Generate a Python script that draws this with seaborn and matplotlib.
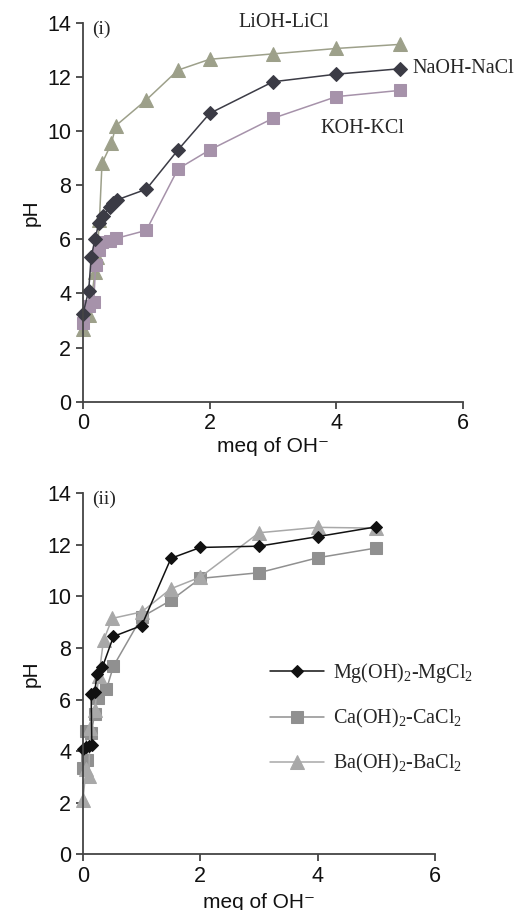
import numpy as np
import pandas as pd
import matplotlib
matplotlib.use("Agg")
import matplotlib.pyplot as plt
import seaborn as sns

# ---- data: panel (i) ----
li_x = [0.0, 0.1, 0.19, 0.22, 0.26, 0.3, 0.45, 0.52, 1.0, 1.5, 2.0, 3.0, 4.0, 5.0]
li_y = [2.7, 3.2, 4.8, 5.35, 6.7, 8.8, 9.55, 10.2, 11.15, 12.25, 12.65, 12.85, 13.05, 13.2]
na_x = [0.0, 0.09, 0.13, 0.19, 0.25, 0.32, 0.42, 0.47, 0.53, 1.0, 1.5, 2.0, 3.0, 4.0, 5.0]
na_y = [3.25, 4.1, 5.35, 6.0, 6.6, 6.85, 7.2, 7.35, 7.45, 7.85, 9.3, 10.65, 11.82, 12.1, 12.3]
k_x = [0.0, 0.1, 0.17, 0.2, 0.25, 0.3, 0.42, 0.52, 1.0, 1.5, 2.0, 3.0, 4.0, 5.0]
k_y = [2.9, 3.55, 3.7, 5.05, 5.6, 5.9, 5.95, 6.03, 6.33, 8.6, 9.3, 10.47, 11.27, 11.5]

# ---- data: panel (ii) ----
mg_x = [0.0, 0.05, 0.1, 0.15, 0.14, 0.2, 0.24, 0.33, 0.52, 1.0, 1.5, 2.0, 3.0, 4.0, 5.0]
mg_y = [4.1, 4.15, 4.2, 4.25, 6.2, 6.3, 7.0, 7.25, 8.45, 8.87, 11.48, 11.9, 11.95, 12.32, 12.7]
ca_x = [0.0, 0.07, 0.05, 0.14, 0.2, 0.25, 0.4, 0.52, 1.0, 1.5, 2.0, 3.0, 4.0, 5.0]
ca_y = [3.35, 3.65, 4.8, 4.7, 5.45, 6.05, 6.4, 7.3, 9.2, 9.85, 10.7, 10.92, 11.5, 11.88]
ba_x = [0.0, 0.05, 0.1, 0.12, 0.2, 0.27, 0.35, 0.5, 1.0, 1.5, 2.0, 3.0, 4.0, 5.0]
ba_y = [2.1, 3.3, 3.05, 4.9, 5.6, 6.9, 8.3, 9.15, 9.4, 10.3, 10.75, 12.47, 12.68, 12.65]

xticks = [0, 2, 4, 6]
yticks = [0, 2, 4, 6, 8, 10, 12, 14]

sns.set_theme(style="white")
plt.rcParams['font.family'] = ['Liberation Sans', 'DejaVu Sans']
plt.rcParams['mathtext.fontset'] = 'custom'
plt.rcParams['mathtext.rm'] = 'Liberation Serif'
plt.rcParams['mathtext.it'] = 'Liberation Serif:italic'

fig = plt.figure(figsize=(5.17, 9.10), dpi=100)
ax1 = fig.add_axes([0.1605, 0.5586, 0.7351, 0.4164])
ax2 = fig.add_axes([0.1605, 0.0612, 0.6809, 0.3967])

serif = ['Liberation Serif', 'DejaVu Serif']

def draw(ax, x, y, color, marker, ms, label=None):
    df = pd.DataFrame({"x": x, "y": y})
    sns.lineplot(data=df, x="x", y="y", ax=ax, sort=False, estimator=None,
                 color=color, marker=marker, markersize=ms,
                 markerfacecolor=color, markeredgecolor=color,
                 linewidth=1.1, label=label, clip_on=False)

draw(ax1, li_x, li_y, '#9da08a', '^', 9.5)
draw(ax1, k_x, k_y, '#a692aa', 's', 8.5)
draw(ax1, na_x, na_y, '#3b3b45', 'D', 7)

draw(ax2, ca_x, ca_y, '#909090', 's', 8.5, label=r'Ca(OH)$_2$-CaCl$_2$')
draw(ax2, ba_x, ba_y, '#a8a8a8', '^', 9.5, label=r'Ba(OH)$_2$-BaCl$_2$')
draw(ax2, mg_x, mg_y, '#111111', 'D', 6, label=r'Mg(OH)$_2$-MgCl$_2$')

for ax in (ax1, ax2):
    ax.set_xlim(0, 6)
    ax.set_ylim(0, 14)
    ax.set_xticks(xticks)
    ax.set_yticks(yticks)
    for s in ('top', 'right'):
        ax.spines[s].set_visible(False)
    for s in ('left', 'bottom'):
        ax.spines[s].set_color('#444444')
        ax.spines[s].set_linewidth(1.3)
    ax.tick_params(axis='both', which='both', direction='out', length=5, width=1.3,
                   color='#444444', labelsize=15.5, labelcolor='#111111', left=True, bottom=True)
    ax.set_ylabel('pH', fontsize=15, color='#111111', labelpad=5)
    ax.set_xlabel('meq of OH\u207b', fontsize=15, color='#111111', labelpad=2)
    ax.grid(False)

ax2.xaxis.labelpad = 4

ax1.text(0.15, 13.75, '(i)', fontsize=14, family=serif, va='center', ha='left')
ax1.text(3.17, 14.0, 'LiOH-LiCl', fontsize=14.5, family=serif, va='center', ha='center')
ax1.text(5.2, 12.3, 'NaOH-NaCl', fontsize=14.5, family=serif, va='center', ha='left')
ax1.text(3.75, 10.1, 'KOH-KCl', fontsize=14.5, family=serif, va='center', ha='left')

ax2.text(0.15, 13.75, '(ii)', fontsize=14, family=serif, va='center', ha='left')

h, l = ax2.get_legend_handles_labels()
order = [2, 0, 1]
leg = ax2.legend([h[i] for i in order], [l[i] for i in order], loc='upper left',
                 bbox_to_anchor=(0.48, 0.586), frameon=False,
                 prop={'family': serif, 'size': 14.5}, handlelength=2.7,
                 labelspacing=1.1, handletextpad=0.4)

fig.savefig('out.png', dpi=100)
